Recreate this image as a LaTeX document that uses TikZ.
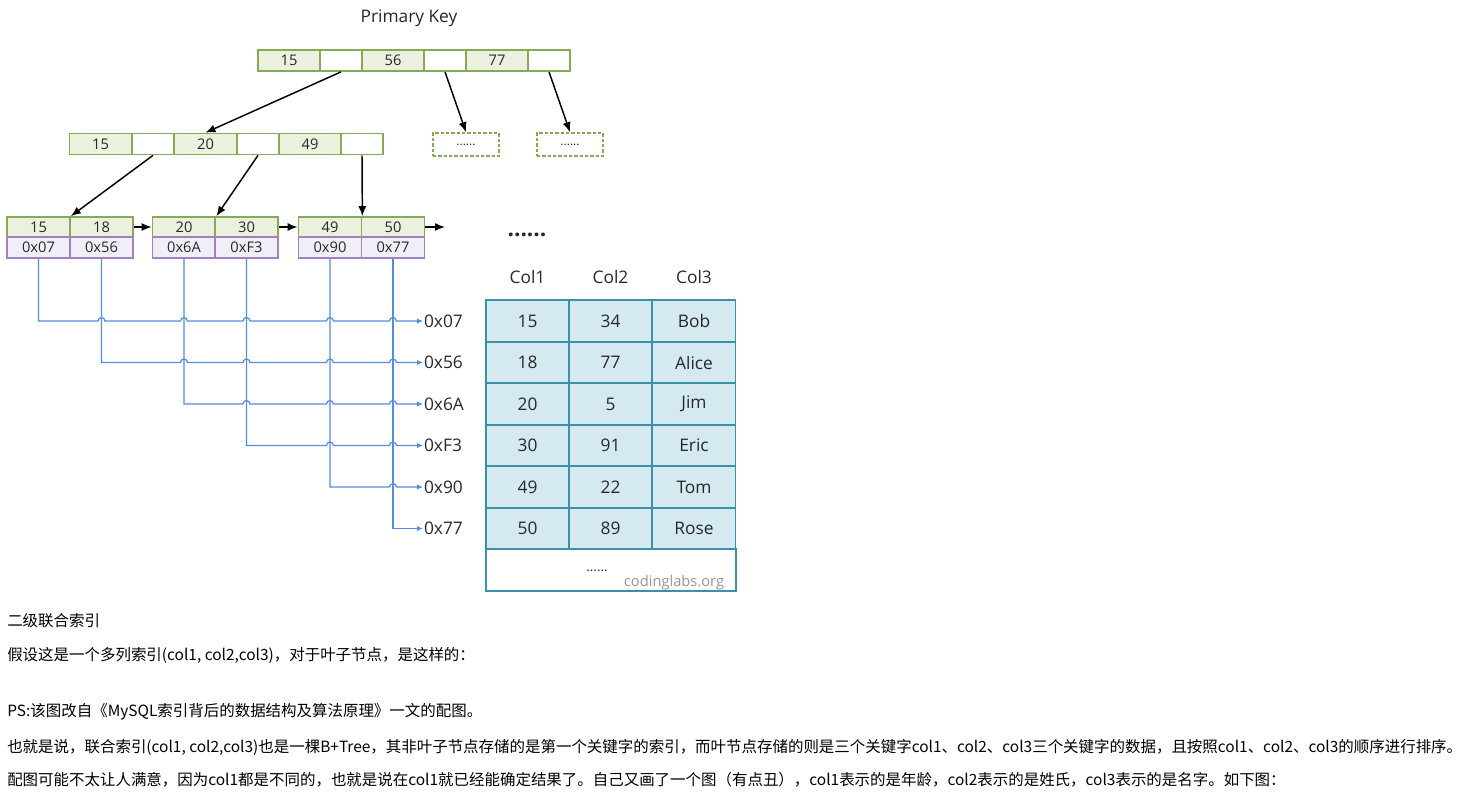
\documentclass[tikz,border=0pt]{standalone}
\usepackage{fontspec}
\setmainfont{Open Sans}
\newfontfamily\cjk{Noto Sans CJK SC}
\usetikzlibrary{arrows.meta,calc}
\definecolor{gb}{RGB}{132,172,84}
\definecolor{gf}{RGB}{235,241,222}
\definecolor{pb}{RGB}{160,130,190}
\definecolor{pf}{RGB}{242,238,247}
\definecolor{blu}{RGB}{85,140,220}
\definecolor{tb}{RGB}{60,145,170}
\definecolor{tf}{RGB}{212,234,240}
\definecolor{txt}{RGB}{40,40,40}
\definecolor{wm}{RGB}{150,150,150}
\begin{document}
\begin{tikzpicture}[x=0.75pt,y=-0.75pt,
  every node/.style={inner sep=0pt, text=txt},
  kc/.style={draw=gb, fill=gf, line width=1.3pt, minimum height=15.75pt, minimum width=46.5pt, font=\fontsize{11}{12}\selectfont},
  pc/.style={draw=gb, fill=white, line width=1.3pt, minimum height=15.75pt, minimum width=31.5pt},
  lk/.style={kc, minimum width=47.25pt, minimum height=15pt},
  lp/.style={draw=pb, fill=pf, line width=1.3pt, minimum width=47.25pt, minimum height=15.5pt, font=\fontsize{11}{12}\selectfont},
  dbox/.style={draw=gb, dashed, dash pattern=on 2.5pt off 1.5pt, line width=1.3pt, minimum width=49.5pt, minimum height=17.25pt, font=\fontsize{9}{10}\selectfont},
  arr/.style={draw=black, line width=1.1pt, -{Latex[length=7.5pt,width=6pt]}},
  bl/.style={draw=blu, line width=0.9pt, -{Latex[length=4.5pt,width=4pt]}},
  lbl/.style={anchor=west, inner sep=0.6pt, font=\fontsize{13}{15}\selectfont, text height=9.5pt, text depth=0pt},
  tc/.style={draw=tb, fill=tf, line width=1.4pt, minimum width=62.25pt, minimum height=31.1pt, font=\fontsize{13}{15}\selectfont},
  hd/.style={font=\fontsize{13}{15}\selectfont},
  para/.style={anchor=west, font=\cjk\fontsize{11.6}{13}\selectfont, text=black}
]
\useasboundingbox (0,0) rectangle (1475,794);
% title
\node[font=\fontsize{13}{14}\selectfont] (title) at (409,18) {Primary Key};
% root
\node[kc] (t1) at (289,60.5) {15};
\node[pc] (t2) at (341,60.5) {};
\node[kc] (t3) at (393,60.5) {56};
\node[pc] (t4) at (445,60.5) {};
\node[kc] (t5) at (497,60.5) {77};
\node[pc] (t6) at (549,60.5) {};
\node[dbox] (d1) at (466,144.5) {......};
\node[dbox] (d2) at (570,144.5) {......};
% internal
\node[kc] (s1) at (100.5,144) {15};
\node[pc] (s2) at (153,144) {};
\node[kc] (s3) at (205.5,144) {20};
\node[pc] (s4) at (258,144) {};
\node[kc] (s5) at (310,144) {49};
\node[pc] (s6) at (362,144) {};
% leaves
\node[lk] (k1) at (38.5,227) {15};
\node[lk] (k2) at (101.5,227) {18};
\node[lk] (k3) at (184,227) {20};
\node[lk] (k4) at (246.5,227) {30};
\node[lk] (k5) at (330,227) {49};
\node[lk] (k6) at (393,227) {50};
\node[lp] (p1) at (38.5,247.5) {0x07};
\node[lp] (p2) at (101.5,247.5) {0x56};
\node[lp] (p3) at (184,247.5) {0x6A};
\node[lp] (p4) at (246.5,247.5) {0xF3};
\node[lp] (p5) at (330,247.5) {0x90};
\node[lp] (p6) at (393,247.5) {0x77};
\coordinate (lend) at (445,227);
\node[font=\fontsize{17}{18}\selectfont\bfseries] (dots) at (527,235) {......};
% tree arrows
\draw[arr] (t2.south) -- (s3.north);
\draw[arr] (t4.south) -- (d1.north);
\draw[arr] (t6.south) -- (d2.north);
\draw[arr] (s2.south) -- (k1.north east);
\draw[arr] (s4.south) -- (k3.north east);
\draw[arr] (s6.south) -- (k5.north east);
\draw[arr] (k2.east) -- (k3.west);
\draw[arr] (k4.east) -- (k5.west);
\draw[arr] (k6.east) -- (lend);
% table
\node[hd] (h1) at (527.5,277) {Col1};
\node[hd] (h2) at (610.5,277) {Col2};
\node[hd] (h3) at (694,277) {Col3};
\foreach \i/\a/\b/\c/\r in {1/15/34/Bob/0x07,2/18/77/Alice/0x56,3/20/5/Jim/0x6A,4/30/91/Eric/0xF3,5/49/22/Tom/0x90,6/50/89/Rose/0x77}{
  \node[tc] (c\i a) at (527.5,{279.5+41.5*\i}) {\a};
  \node[tc] (c\i b) at (610.5,{279.5+41.5*\i}) {\b};
  \node[tc] (c\i c) at (694,{279.5+41.5*\i}) {\c};
  \node[lbl] (r\i) at (423,{279.5+41.5*\i}) {\r};
}
\node[draw=tb, fill=white, line width=1.4pt, minimum width=187.5pt, minimum height=31.1pt] (cbot) at (611,570) {};
\node (bdots) at (597,571) {......};
\node[text=wm, font=\fontsize{11}{13}\selectfont] (wmk) at (674,583) {codinglabs.org};
% pointer connectors with hops
\foreach \i in {1,...,5}{
  \pgfmathtruncatemacro\j{\i+1}
  \draw[bl] (p\i.south) -- (p\i.south|-r\i.west)
    \foreach \k in {\j,...,6}{ -- ($(p\k.south|-r\i.west)+(-3.5,0)$) arc[start angle=180,end angle=0,radius=2.6pt] }
    -- (r\i.west);
}
\draw[bl] (p6.south) |- (r6.west);
% paragraphs
\node[para] (l1) at (7,621) {二级联合索引};
\node[para] (l2) at (7,655) {假设这是一个多列索引(col1, col2,col3)，对于叶子节点，是这样的：};
\node[para] (l3) at (7,712) {PS:该图改自《MySQL索引背后的数据结构及算法原理》一文的配图。};
\node[para] (l4) at (7,747) {也就是说，联合索引(col1, col2,col3)也是一棵B+Tree，其非叶子节点存储的是第一个关键字的索引，而叶节点存储的则是三个关键字col1、col2、col3三个关键字的数据，且按照col1、col2、col3的顺序进行排序。};
\node[para] (l5) at (7,780) {配图可能不太让人满意，因为col1都是不同的，也就是说在col1就已经能确定结果了。自己又画了一个图（有点丑），col1表示的是年龄，col2表示的是姓氏，col3表示的是名字。如下图：};
\end{tikzpicture}
\end{document}
